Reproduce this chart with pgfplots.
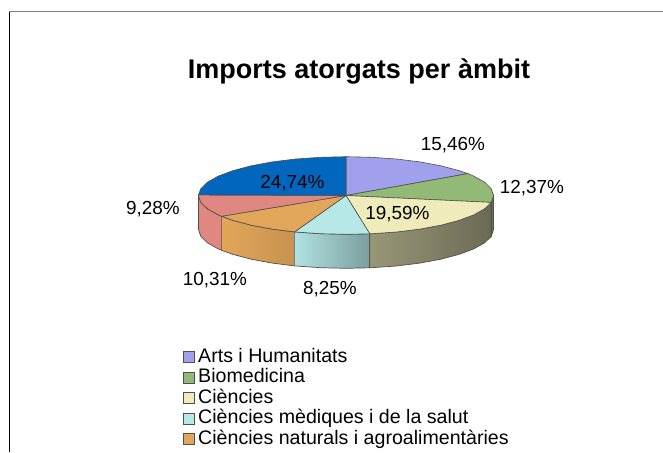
\documentclass[border=0pt]{standalone}
\usepackage{pgfplots}
\pgfplotsset{compat=1.18}
\usepackage{fontspec}
\setmainfont{Liberation Sans}
\definecolor{cA}{HTML}{A0A0EC}
\definecolor{cB}{HTML}{93B976}
\definecolor{cC}{HTML}{EFEBBB}
\definecolor{cD}{HTML}{B6E8E8}
\definecolor{cE}{HTML}{E2A65A}
\definecolor{cF}{HTML}{E08781}
\definecolor{cG}{HTML}{0066BE}
\definecolor{edge}{HTML}{50504A}
\begin{document}
\begin{tikzpicture}
\begin{axis}[
  hide axis, scale only axis, width=663pt, height=452pt,
  xmin=0, xmax=663, ymin=0, ymax=452, y dir=reverse,
  legend style={at={(axis cs:183,348)}, anchor=north west, draw=none, fill=none,
    font=\fontsize{19.6}{20.5}\selectfont, row sep=2.5pt, column sep=0pt, inner sep=0pt, outer sep=0pt,
    nodes={inner sep=0pt, text height=14pt, text depth=4pt, anchor=west}},
  legend cell align=left,
  legend image code/.code={\draw[#1, draw=edge, line width=0.7pt] (0pt,-5.5pt) rectangle (11pt,5.5pt);},
]
% page and frame
\addplot[draw=none, fill=white, forget plot] coordinates {(0,0)(663,0)(663,452)(0,452)} -- cycle;
\addplot[draw=black, line width=0.8pt, forget plot] coordinates {(9,452)(9,12)};
\addplot[draw=gray, line width=1pt, forget plot] coordinates {(9,12)(663,12)};
% side walls
\addplot[draw=edge, line width=0.7pt, fill=black!55!cC, forget plot] coordinates {(493.5,195.5)(491.2,202.4)(491.2,236.4)(493.5,229.5)} -- cycle;
\addplot[draw=edge, line width=0.7pt, fill=cF, forget plot] coordinates {(198.5,195.5)(200.7,202.2)(207.4,208.8)(218.3,214.9)(221.6,216.3)(221.6,250.3)(218.3,248.9)(207.4,242.8)(200.7,236.2)(198.5,229.5)} -- cycle;
\addplot[draw=edge, line width=0.7pt, left color=cE, middle color=cE, right color=black!12!cE, forget plot] coordinates {(221.6,216.3)(233.0,220.4)(251.2,225.2)(272.2,229.1)(294.6,231.9)(294.6,265.9)(272.2,263.1)(251.2,259.2)(233.0,254.4)(221.6,250.3)} -- cycle;
\addplot[draw=edge, line width=0.7pt, left color=black!3!cD, right color=black!32!cD, forget plot] coordinates {(294.6,231.9)(320.4,233.7)(346,234.3)(369.8,233.8)(369.8,267.8)(346,268.3)(320.4,267.7)(294.6,265.9)} -- cycle;
\addplot[draw=edge, line width=0.7pt, left color=black!36!cC, middle color=black!52!cC, right color=black!55!cC, forget plot] coordinates {(369.8,233.8)(371.6,233.7)(396.4,232.0)(419.8,229.1)(440.8,225.2)(459.0,220.4)(473.7,214.9)(484.6,208.8)(491.2,202.4)(491.2,236.4)(484.6,242.8)(473.7,248.9)(459.0,254.4)(440.8,259.2)(419.8,263.1)(396.4,266.0)(371.6,267.7)(369.8,267.8)} -- cycle;
% top slices
\addplot[draw=edge, line width=0.6pt, fill=cA] coordinates {(346,195.5)(346,156.7)(371.6,157.3)(396.4,159.0)(419.8,161.9)(440.8,165.8)(459.0,170.6)(467.8,173.6)} -- cycle;
\addlegendentry{\hspace{3.5pt}Arts i Humanitats}
\addplot[draw=edge, line width=0.6pt, fill=cB] coordinates {(346,195.5)(467.8,173.6)(473.7,176.1)(484.6,182.2)(491.3,188.8)(493.5,195.5)(491.2,202.4)} -- cycle;
\addlegendentry{\hspace{3.5pt}Biomedicina}
\addplot[draw=edge, line width=0.6pt, fill=cC] coordinates {(346,195.5)(491.2,202.4)(484.6,208.8)(473.7,214.9)(459.0,220.4)(440.8,225.2)(419.8,229.1)(396.4,232.0)(371.6,233.7)(369.8,233.8)} -- cycle;
\addlegendentry{\hspace{3.5pt}Ciències}
\addplot[draw=edge, line width=0.6pt, fill=cD] coordinates {(346,195.5)(369.8,233.8)(346,234.3)(320.4,233.7)(295.6,232.0)(294.6,231.9)} -- cycle;
\addlegendentry{\hspace{3.5pt}Ciències mèdiques i de la salut}
\addplot[draw=edge, line width=0.6pt, fill=cE] coordinates {(346,195.5)(294.6,231.9)(272.2,229.1)(251.2,225.2)(233.0,220.4)(221.6,216.3)} -- cycle;
\addlegendentry{\hspace{3.5pt}Ciències naturals i agroalimentàries}
\addplot[draw=edge, line width=0.6pt, fill=cF, forget plot] coordinates {(346,195.5)(221.6,216.3)(218.3,214.9)(207.4,208.8)(200.7,202.2)(198.5,195.5)(198.5,194.9)} -- cycle;
\addplot[draw=edge, line width=0.6pt, fill=cG, forget plot] coordinates {(346,195.5)(198.5,194.9)(200.7,188.8)(207.4,182.2)(218.3,176.1)(233.0,170.6)(251.2,165.8)(272.2,161.9)(295.6,159.0)(320.4,157.3)(346,156.7)} -- cycle;
% texts
\node[font=\bfseries\fontsize{27}{30}\selectfont] at (axis cs:359,71) {Imports atorgats per àmbit};
\tikzset{lab/.style={font=\fontsize{18.9}{20}\selectfont}}
\node[lab] at (axis cs:453,145) {15,46\%};
\node[lab] at (axis cs:532,188) {12,37\%};
\node[lab] at (axis cs:397.5,214) {19,59\%};
\node[lab] at (axis cs:330,289) {8,25\%};
\node[lab] at (axis cs:215,280) {10,31\%};
\node[lab] at (axis cs:153,209) {9,28\%};
\node[lab] at (axis cs:292.5,183) {24,74\%};
\end{axis}
\end{tikzpicture}
\end{document}
